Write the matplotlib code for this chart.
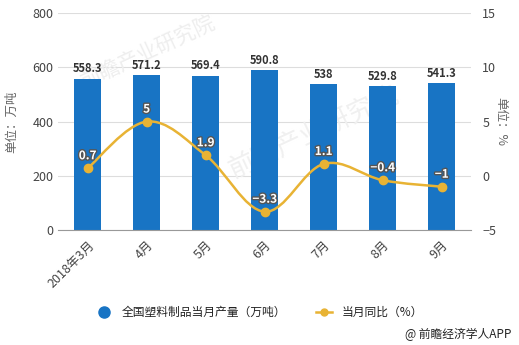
import matplotlib
matplotlib.use("Agg")
import matplotlib.pyplot as plt
import matplotlib.patheffects as pe
from matplotlib.path import Path
from matplotlib.patches import PathPatch
from matplotlib.lines import Line2D
import numpy as np

plt.rcParams['font.family'] = ['Noto Sans CJK SC', 'DejaVu Sans']

months = ["2018年3月", "4月", "5月", "6月", "7月", "8月", "9月"]
output = [558.3, 571.2, 569.4, 590.8, 538, 529.8, 541.3]
yoy = [0.7, 5, 1.9, -3.3, 1.1, -0.4, -1]

bar_color = "#1874c4"
line_color = "#e8b334"
text_color = "#444444"
grid_color = "#dddddd"

fig = plt.figure(figsize=(5.19, 3.45), dpi=100)
ax = fig.add_axes([0.112, 0.333, 0.796, 0.629])
ax2 = ax.twinx()

x = np.arange(len(months))

# 水印（放在柱子下面）
ax.text(0.22, 0.82, "前瞻产业研究院", transform=ax.transAxes, fontsize=15,
        color="#eeeeee", rotation=25, ha="center", va="center", zorder=1)
ax.text(0.62, 0.45, "前瞻产业研究院", transform=ax.transAxes, fontsize=19,
        color="#f0f0f0", rotation=25, ha="center", va="center", zorder=1)

bars = ax.bar(x, output, width=0.46, color=bar_color, zorder=2)
for xi, v in zip(x, output):
    ax.text(xi, v + 12, f"{v:g}", ha="center", va="bottom", fontsize=8,
            fontweight="bold", color="#333333", zorder=4)

ax.set_xlim(-0.5, len(months) - 0.5)
ax.set_ylim(0, 800)
ax.set_yticks(range(0, 801, 200))
ax.grid(axis="y", color=grid_color, linewidth=0.8, zorder=0)
ax.set_axisbelow(True)
for s in ["top", "right", "left"]:
    ax.spines[s].set_visible(False)
ax.spines["bottom"].set_color("#999999")
ax.tick_params(axis="both", length=0, colors=text_color, labelsize=9)
ax.set_xticks(x)
ax.set_xticklabels(months, rotation=45, ha="right", rotation_mode="anchor")
ax.tick_params(axis="x", pad=6)
ax.set_ylabel("单位：万吨", color="#666666", fontsize=9, labelpad=10)

# 平滑折线：三次贝塞尔曲线连接各点
ax2.set_ylim(-5, 15)
ax2.set_yticks(range(-5, 16, 5))
for s in ["top", "right", "left", "bottom"]:
    ax2.spines[s].set_visible(False)
ax2.tick_params(axis="y", length=0, colors=text_color, labelsize=9, pad=8)
ax2.set_ylabel("单位：%", color="#666666", fontsize=9, rotation=270, labelpad=8)

pts = np.column_stack([x, yoy]).astype(float)
verts = [pts[0]]
codes = [Path.MOVETO]
k = 0.35
for i in range(len(pts) - 1):
    p0 = pts[i - 1] if i > 0 else pts[i]
    p1 = pts[i]
    p2 = pts[i + 1]
    p3 = pts[i + 2] if i + 2 < len(pts) else pts[i + 1]
    c1 = p1 + (p2 - p0) * k / 2
    c2 = p2 - (p3 - p1) * k / 2
    verts += [c1, c2, p2]
    codes += [Path.CURVE4] * 3
ax2.add_patch(PathPatch(Path(verts, codes), facecolor="none",
                        edgecolor=line_color, linewidth=1.8, zorder=3))
ax2.plot(x, yoy, "o", color=line_color, markersize=6, zorder=4)
for xi, v in zip(x, yoy):
    ax2.text(xi, v + 0.55, f"{v:g}".replace("-", "−"), ha="center", va="bottom",
             fontsize=8.5, fontweight="bold", color="white", zorder=5,
             path_effects=[pe.withStroke(linewidth=2, foreground="#555555")])

handles = [
    Line2D([], [], marker="o", linestyle="none", color=bar_color, markersize=8),
    Line2D([], [], marker="o", color=line_color, markersize=5, linewidth=1.8),
]
fig.legend(handles, ["全国塑料制品当月产量（万吨）", "当月同比（%）"],
           loc="center", bbox_to_anchor=(0.5, 0.095), ncol=2, frameon=False,
           fontsize=8.5, handlelength=1.4, columnspacing=2.5, labelcolor="#222222")

fig.text(0.985, 0.03, "@ 前瞻经济学人APP", ha="right", va="center",
         fontsize=8.5, color="#222222")

fig.savefig("out.png", dpi=100)
